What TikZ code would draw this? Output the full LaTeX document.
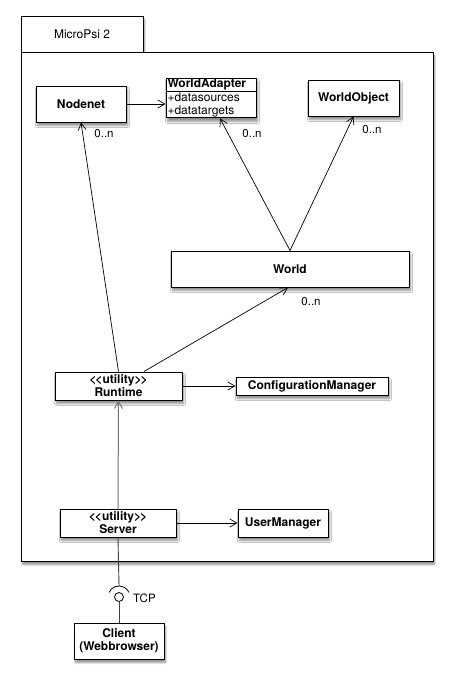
\documentclass[tikz,border=0pt]{standalone}
\usepackage{fontspec}
\setmainfont{TeX Gyre Heros}
\usetikzlibrary{arrows.meta,shadows.blur,shapes.multipart}

\begin{document}
\begin{tikzpicture}[x=1pt,y=-1pt,
    classbox/.style={draw,fill=white,line width=1pt,inner sep=0pt,align=center,
        font=\fontsize{12}{13}\selectfont\bfseries,
        blur shadow={shadow xshift=1.5pt,shadow yshift=-3.5pt,shadow blur steps=6,shadow opacity=45}},
    dep/.style={-{Straight Barb[length=7pt,width=8pt]},line width=0.7pt},
    mult/.style={font=\fontsize{11.5}{12}\selectfont}]
    \useasboundingbox (0,0) rectangle (452,683);

    \node[classbox,font=\fontsize{12}{13}\selectfont,minimum width=122pt,minimum height=36pt] (tab) at (82,34) {MicroPsi 2};
    \node[classbox,minimum width=412pt,minimum height=509pt] (pkg) at (227,306.5) {};

    \node[classbox,minimum width=90pt,minimum height=36pt] (Nodenet) at (81,104) {Nodenet};
    \node[classbox,rectangle split,rectangle split parts=2,align=left,
        text width=87pt,inner xsep=1.5pt,inner ysep=0.5pt] (WorldAdapter) at (211,98)
        {\centering WorldAdapter\nodepart{two}\raggedright\mdseries +datasources\\+datatargets};
    \node[classbox,minimum width=91pt,minimum height=36pt] (WorldObject) at (353.5,98) {WorldObject};
    \node[classbox,minimum width=238pt,minimum height=36pt] (World) at (290,269) {World};
    \node[classbox,minimum width=127pt,minimum height=28pt] (Runtime) at (118.5,386) {<\kern-1pt<utility>\kern-1pt>\\Runtime};
    \node[classbox,minimum width=152pt,minimum height=18pt] (ConfigurationManager) at (312,386) {ConfigurationManager};
    \node[classbox,minimum width=116pt,minimum height=28pt] (Server) at (118,523) {<\kern-1pt<utility>\kern-1pt>\\Server};
    \node[classbox,minimum width=90pt,minimum height=28pt] (UserManager) at (283,523) {UserManager};
    \node[classbox,minimum width=90pt,minimum height=36pt] (Client) at (119,641) {Client\\(Webbrowser)};

    % dependencies
    \draw[dep] (Nodenet) -- (WorldAdapter.west |- Nodenet);
    \draw[dep] (Runtime.north) -- (Nodenet.south);
    \draw[dep] (World.north) -- ([xshift=9pt]WorldAdapter.south);
    \draw[dep] (World.north) -- (WorldObject.south);
    \draw[dep] ([xshift=25.5pt]Runtime.north) -- ([xshift=-2pt]World.south);
    \draw[dep] (Runtime) -- (ConfigurationManager);
    \draw[dep,black!55,line width=1pt] (Server.north) -- (Runtime.south);
    \draw[dep] (Server) -- (UserManager);

    \node[mult] (mNodenet) at (104,134) {0..n};
    \node[mult] (mWorldAdapter) at (252,134) {0..n};
    \node[mult] (mWorldObject) at (372,130) {0..n};
    \node[mult] (mWorld) at (311,302) {0..n};

    % TCP interface
    \coordinate (socket) at (119,586);
    \node[circle,draw,line width=0.8pt,minimum size=9pt,inner sep=0pt] (ball) at (119,597) {};
    \draw[line width=0.9pt,black!75] (Server.south) -- (socket);
    \draw[line width=0.8pt] ([shift={(155:11pt)}]ball.center) arc[start angle=155,end angle=25,radius=11pt];
    \draw[line width=0.9pt,black!75] (ball) -- (Client);
    \node[mult,anchor=west,inner sep=0pt] (tcp) at (133,598) {TCP};
\end{tikzpicture}
\end{document}
